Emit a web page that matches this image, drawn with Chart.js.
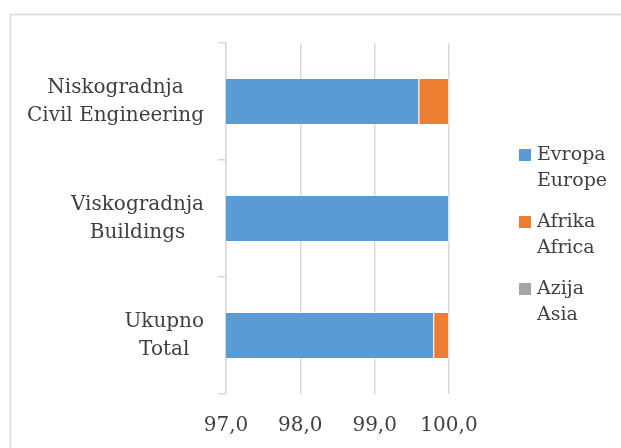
<!DOCTYPE html>
<html>
<head>
<meta charset="utf-8">
<script src="https://cdn.jsdelivr.net/npm/chart.js@4"></script>
<style>
  html, body { margin: 0; padding: 0; background: #fff; }
  #wrap { width: 621px; height: 448px; position: relative; }
</style>
</head>
<body>
<div id="wrap"><canvas id="chart" width="621" height="448"></canvas></div>
<script>
// --- podaci ---
const categories = [
    ['Niskogradnja', 'Civil Engineering'],
    ['Viskogradnja', 'Buildings'],
    ['Ukupno', 'Total']
];
const seriesNames = [['Evropa', 'Europe'], ['Afrika', 'Africa'], ['Azija', 'Asia']];
const evropa = [99.6, 100.0, 99.8];
const afrika = [0.4, 0.0, 0.2];
const azija = [0.0, 0.0, 0.0];
const xTicks = [97, 98, 99, 100];

const colors = ['#5B9BD5', '#ED7D31', '#A5A5A5'];
const textColor = '#404040';
const fontFamily = '"DejaVu Serif", serif';

// okvir oko grafikona
const framePlugin = {
    id: 'frame',
    beforeDraw(chart) {
        const c = chart.ctx;
        c.save();
        c.fillStyle = '#fff';
        c.fillRect(0, 0, chart.width, chart.height);
        c.strokeStyle = '#d9d9d9';
        c.lineWidth = 1.5;
        c.strokeRect(10.5, 14.5, 700, 500);
        c.restore();
    }
};

// kategorije na y osi (blok desno, linije centrirane)
const yLabelPlugin = {
    id: 'yLabels',
    afterDraw(chart) {
        const c = chart.ctx;
        const y = chart.scales.y;
        c.save();
        c.font = '20px ' + fontFamily;
        c.fillStyle = textColor;
        c.textAlign = 'center';
        c.textBaseline = 'middle';
        const right = 204, lh = 28;
        categories.forEach((lines, i) => {
            const cy = y.getPixelForValue(i);
            const w = Math.max(...lines.map(l => c.measureText(l).width));
            const cx = right - w / 2;
            lines.forEach((l, j) => {
                c.fillText(l, cx, cy + (j - (lines.length - 1) / 2) * lh);
            });
        });
        c.restore();
    }
};

// legenda desno
const legendPlugin = {
    id: 'sideLegend',
    afterDraw(chart) {
        const c = chart.ctx;
        c.save();
        c.font = '19px ' + fontFamily;
        c.textBaseline = 'middle';
        c.textAlign = 'left';
        const x0 = 519, top = 155, gap = 67, lh = 26;
        chart.data.datasets.forEach((ds, i) => {
            const y0 = top + i * gap;
            c.fillStyle = ds.backgroundColor;
            c.fillRect(x0, y0 - 6, 12, 12);
            c.fillStyle = textColor;
            ds.label.forEach((l, j) => c.fillText(l, x0 + 18, y0 + j * lh));
        });
        c.restore();
    }
};

const datasets = [evropa, afrika, azija].map((d, i) => ({
    label: seriesNames[i],
    data: d,
    backgroundColor: colors[i],
    borderColor: 'rgba(255,255,255,0.35)',
    borderWidth: 1,
    barPercentage: 0.8,
    categoryPercentage: 0.5
}));

new Chart(document.getElementById('chart'), {
    type: 'bar',
    data: { labels: categories.map(c => c.join(' ')), datasets: datasets },
    plugins: [framePlugin, yLabelPlugin, legendPlugin],
    options: {
        indexAxis: 'y',
        responsive: false,
        animation: false,
        layout: { padding: { left: 0, top: 43, right: 172, bottom: 0 } },
        plugins: { legend: { display: false }, tooltip: { enabled: false } },
        scales: {
            x: {
                stacked: true,
                min: 97,
                max: 100,
                afterBuildTicks: (s) => { s.ticks = xTicks.map(v => ({ value: v })); },
                afterFit: (s) => { s.height = 54; },
                grid: { color: '#d9d9d9', lineWidth: 1.5, drawTicks: false },
                border: { display: false },
                ticks: {
                    color: textColor,
                    font: { family: fontFamily, size: 20 },
                    padding: 20,
                    callback: (v) => Number(v).toFixed(1).replace('.', ',')
                }
            },
            y: {
                stacked: true,
                afterFit: (s) => { s.width = 226; },
                grid: { drawOnChartArea: false, drawTicks: true, tickLength: 8, color: '#d9d9d9', lineWidth: 1.5, offset: true },
                border: { display: true, color: '#d9d9d9', width: 1.5 },
                ticks: { display: false }
            }
        }
    }
});
</script>
</body>
</html>
